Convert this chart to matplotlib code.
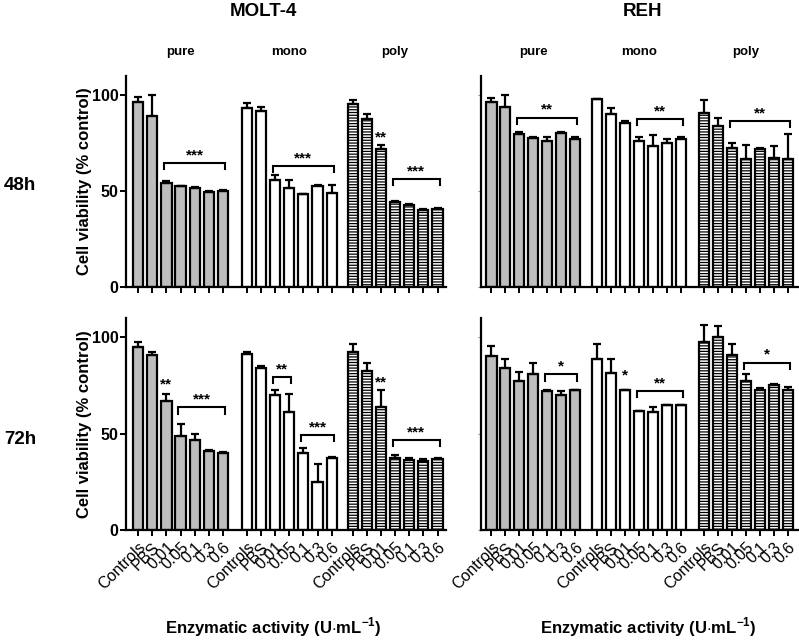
import numpy as np
import matplotlib
matplotlib.use("Agg")
import matplotlib.pyplot as plt
import matplotlib.transforms as mtrans

plt.rcParams['font.family'] = ['Liberation Sans', 'DejaVu Sans']
plt.rcParams['mathtext.fontset'] = 'custom'
plt.rcParams['mathtext.rm'] = 'Liberation Sans:bold'
plt.rcParams['mathtext.bf'] = 'Liberation Sans:bold'
plt.rcParams['hatch.linewidth'] = 0.9

# ---------------- data ----------------
groups = ['pure', 'mono', 'poly']
doses = ['Controls', 'PBS', '0.01', '0.05', '0.1', '0.3', '0.6']
cell_lines = ['MOLT-4', 'REH']
times = ['48h', '72h']

molt4_48h_pure = [96.2, 89.2, 54.3, 52.5, 51.7, 49.7, 50.1]
molt4_48h_pure_err = [2.6, 11.0, 0.8, 0.4, 0.4, 0.6, 0.4]
molt4_48h_mono = [93.5, 91.8, 56.0, 51.7, 48.5, 52.5, 49.0]
molt4_48h_mono_err = [2.5, 2.2, 2.6, 4.0, 0.0, 0.5, 4.0]
molt4_48h_poly = [95.6, 87.4, 72.1, 44.1, 42.9, 40.0, 40.7]
molt4_48h_poly_err = [2.0, 2.8, 1.7, 0.6, 0.6, 0.5, 0.6]

reh_48h_pure = [96.2, 93.9, 79.6, 77.7, 75.9, 80.5, 77.0]
reh_48h_pure_err = [2.5, 6.3, 1.2, 0.5, 2.4, 0.5, 1.0]
reh_48h_mono = [97.9, 90.4, 85.7, 75.9, 73.5, 75.2, 77.3]
reh_48h_mono_err = [0.3, 2.8, 1.0, 2.5, 5.6, 2.1, 0.8]
reh_48h_poly = [90.9, 83.9, 72.6, 66.5, 72.1, 67.4, 66.8]
reh_48h_poly_err = [6.5, 4.2, 2.6, 7.3, 0.5, 6.1, 13.0]

molt4_72h_pure = [95.0, 90.7, 66.8, 48.9, 46.5, 41.1, 40.2]
molt4_72h_pure_err = [2.6, 1.4, 3.7, 6.0, 3.2, 0.5, 0.5]
molt4_72h_mono = [91.2, 84.3, 69.9, 61.3, 39.7, 25.0, 37.5]
molt4_72h_mono_err = [1.0, 1.0, 2.6, 9.5, 3.1, 9.2, 0.3]
molt4_72h_poly = [92.4, 82.4, 63.6, 37.5, 36.3, 35.8, 36.6]
molt4_72h_poly_err = [4.0, 4.5, 8.9, 1.4, 1.0, 1.0, 0.5]

reh_72h_pure = [90.3, 84.1, 77.4, 80.7, 72.2, 69.9, 72.4]
reh_72h_pure_err = [5.2, 4.5, 4.6, 6.2, 0.3, 2.3, 0.3]
reh_72h_mono = [88.6, 81.7, 72.9, 61.7, 61.0, 64.6, 64.8]
reh_72h_mono_err = [8.1, 6.9, 0.0, 0.3, 2.9, 0.3, 0.3]
reh_72h_poly = [97.3, 100.2, 90.7, 77.2, 72.5, 75.1, 72.5]
reh_72h_poly_err = [9.0, 5.5, 6.0, 4.0, 1.0, 0.5, 1.5]

# significance marks: (group, first bar, last bar, y level, label); first==last -> no bracket
molt4_48h_sig = [(0, 2, 6, 64.7, '***'), (1, 2, 6, 63.0, '***'),
                 (2, 2, 2, 76.0, '**'), (2, 3, 6, 56.4, '***')]
reh_48h_sig = [(0, 2, 6, 88.3, '**'), (1, 3, 6, 87.4, '**'), (2, 2, 6, 86.5, '**')]
molt4_72h_sig = [(0, 2, 2, 73.5, '**'), (0, 3, 6, 63.6, '***'),
                 (1, 2, 3, 79.4, '**'), (1, 4, 6, 49.2, '***'),
                 (2, 2, 2, 74.5, '**'), (2, 3, 6, 46.6, '***')]
reh_72h_sig = [(0, 4, 6, 80.7, '*'), (1, 2, 2, 78.0, '*'), (1, 3, 6, 72.0, '**'),
               (2, 3, 6, 86.9, '*')]

panels = {
    (0, 0): ([molt4_48h_pure, molt4_48h_mono, molt4_48h_poly],
             [molt4_48h_pure_err, molt4_48h_mono_err, molt4_48h_poly_err], molt4_48h_sig),
    (0, 1): ([reh_48h_pure, reh_48h_mono, reh_48h_poly],
             [reh_48h_pure_err, reh_48h_mono_err, reh_48h_poly_err], reh_48h_sig),
    (1, 0): ([molt4_72h_pure, molt4_72h_mono, molt4_72h_poly],
             [molt4_72h_pure_err, molt4_72h_mono_err, molt4_72h_poly_err], molt4_72h_sig),
    (1, 1): ([reh_72h_pure, reh_72h_mono, reh_72h_poly],
             [reh_72h_pure_err, reh_72h_mono_err, reh_72h_poly_err], reh_72h_sig),
}

# ---------------- layout ----------------
W, H = 799, 640
fig = plt.figure(figsize=(W / 100, H / 100), dpi=100)

col_x = {0: (125.5, 446.0), 1: (481.0, 799.0)}
row_y = {0: (76.0, 287.0), 1: (318.0, 530.0)}
group_offsets = {0: [0.0, 7.7, 15.2], 1: [0.0, 7.55, 15.2]}
xlims = {0: (-0.9, 21.8), 1: (-0.75, 22.0)}

fill_colors = ['#bdbdbd', 'white', 'white']
hatches = [None, None, '------']

for (r, c), (vals_list, err_list, sigs) in panels.items():
    x0, x1 = col_x[c]
    ytop, ybot = row_y[r]
    ax = fig.add_axes([x0 / W, 1 - ybot / H, (x1 - x0) / W, (ybot - ytop) / H])
    all_pos = []
    for g in range(3):
        pos = group_offsets[c][g] + np.arange(len(doses))
        all_pos.extend(pos)
        ax.bar(pos, vals_list[g], width=0.72, color=fill_colors[g], edgecolor='black',
               linewidth=1.6, hatch=hatches[g], zorder=2)
        ax.errorbar(pos, vals_list[g], yerr=[np.zeros(len(doses)), err_list[g]],
                    fmt='none', ecolor='black', elinewidth=1.6, capsize=3, capthick=1.6,
                    zorder=3)
        # group label above
        ax.text(pos.mean(), 1.0 + 24 / (ybot - ytop) if r == 0 else 0, groups[g] if r == 0 else '',
                transform=mtrans.blended_transform_factory(ax.transData, ax.transAxes),
                ha='center', va='center', fontsize=9.5, fontweight='bold')
    for (g, i0, i1, yv, lab) in sigs:
        p0 = group_offsets[c][g] + i0
        p1 = group_offsets[c][g] + i1
        if i0 != i1:
            xa, xb = p0 - 0.15, p1 + 0.15
            ax.plot([xa, xa, xb, xb], [yv - 3.2, yv, yv, yv - 3.2], color='black', lw=1.5,
                    solid_joinstyle='miter', zorder=4)
            ytxt = yv + 2.0
        else:
            ytxt = yv
        ax.text((p0 + p1) / 2, ytxt, lab, ha='center', va='baseline', fontsize=11,
                fontweight='bold', zorder=5)

    ax.set_xlim(*xlims[c])
    ax.set_ylim(0, 110)
    ax.set_yticks([0, 50, 100])
    ax.set_xticks(all_pos)
    for s in ['top', 'right']:
        ax.spines[s].set_visible(False)
    for s in ['left', 'bottom']:
        ax.spines[s].set_linewidth(1.6)
    ax.tick_params(axis='x', length=4, width=1.4, direction='out')
    if c == 0:
        ax.tick_params(axis='y', length=4, width=1.4, direction='out', pad=1)
        ax.set_yticklabels(['0', '50', '100'], fontsize=11.5, fontweight='bold')
    else:
        ax.tick_params(axis='y', length=2.5, width=0.8, direction='out', color='#999999')
        ax.set_yticklabels([])
    if r == 1:
        ax.set_xticklabels(doses * 3, rotation=45, ha='right', va='top',
                           rotation_mode='anchor', fontsize=11.5)
        ax.tick_params(axis='x', pad=3)
    else:
        ax.set_xticklabels([])
    ax.set_facecolor('none')

# y labels
for r in (0, 1):
    ytop, ybot = row_y[r]
    fig.text(84 / W, 1 - (ytop + ybot) / 2 / H, 'Cell viability (% control)', rotation=90,
             ha='center', va='center', fontsize=12, fontweight='bold')
    fig.text(20 / W, 1 - [186, 440][r] / H, times[r], ha='center', va='center',
             fontsize=13.5, fontweight='bold')

# column titles and x labels
for c, cx in zip((0, 1), (263, 642)):
    fig.text(cx / W, 1 - 11 / H, cell_lines[c], ha='center', va='center',
             fontsize=13.5, fontweight='bold')
for cx in (273, 648):
    fig.text(cx / W, 1 - 627 / H, r'Enzymatic activity (U$\cdot$mL$^{\mathbf{-1}}$)',
             ha='center', va='center', fontsize=12, fontweight='bold')

fig.savefig('out.png', dpi=100)
